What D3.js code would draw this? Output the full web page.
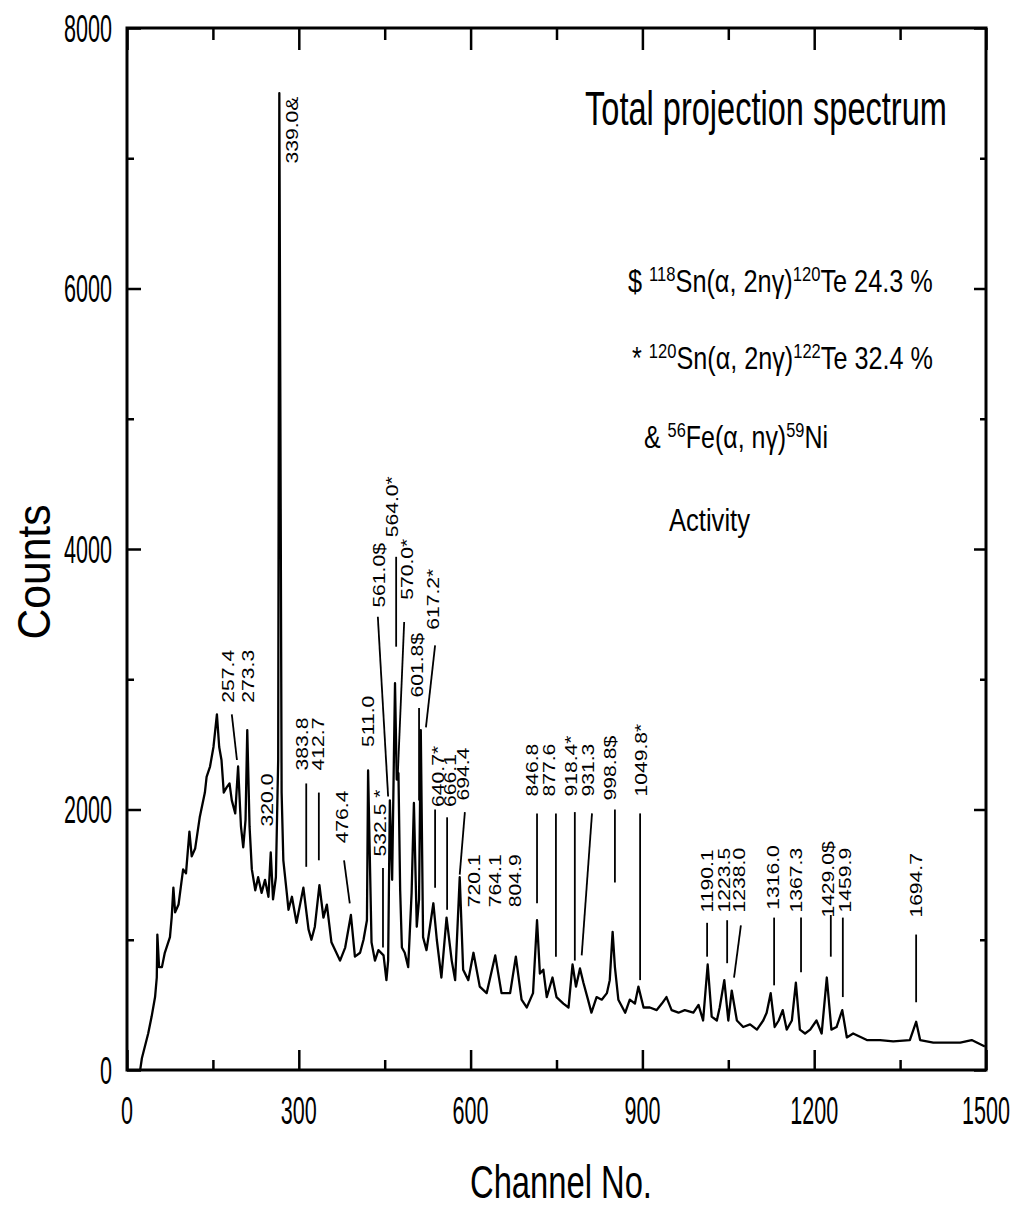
<!DOCTYPE html>
<html>
<head>
<meta charset="utf-8">
<script src="https://cdn.jsdelivr.net/npm/d3@7"></script>
<style>
  body { margin: 0; background: #fff; }
  svg { display: block; }
  text { font-family: "Liberation Sans", Arial, Helvetica, sans-serif; fill: #000; }
</style>
</head>
<body>
<svg id="chart" width="1021" height="1212"></svg>
<script>
// spectrum: [channel, counts]
const spectrum = [
  [23,0],[26,90],[37,280],[43,410],[49,560],[52,710],[53,1040],[56,790],[61,790],[66,900],
  [75,1020],[78,1170],[81,1400],[84,1210],[90,1270],[95,1440],[98,1540],[103,1510],[109,1830],[113,1640],
  [119,1700],[127,1940],[136,2130],[139,2250],[145,2330],[151,2480],[157,2730],[161,2480],[165,2380],[169,2130],
  [174,2170],[179,2200],[183,2070],[189,1970],[194,2330],[199,1870],[203,1710],[207,1920],[210,2610],[214,1870],
  [218,1540],[224,1380],[229,1480],[235,1360],[241,1460],[247,1330],[251,1670],[255,1310],[260,1480],[264,2380],
  [266,7500],[270,2130],[273,1610],[279,1360],[282,1230],[288,1330],[296,1130],[308,1400],[317,1080],[322,1000],
  [328,1100],[336,1420],[343,1170],[349,1270],[357,980],[372,840],[381,940],[391,1190],[398,870],[407,900],
  [413,1000],[419,1150],[421,2300],[427,980],[433,840],[439,920],[448,880],[453,690],[456,840],[459,2070],
  [463,1460],[466,2380],[468,2970],[471,2230],[474,2280],[477,1380],[480,940],[485,900],[491,790],[497,1360],
  [501,2050],[506,1100],[510,1310],[513,2610],[517,1020],[523,920],[529,1100],[535,1280],[541,1000],[549,710],
  [558,1170],[567,840],[573,690],[581,1480],[587,770],[596,690],[605,900],[616,640],[628,590],[643,880],
  [654,590],[669,590],[679,870],[689,540],[698,480],[709,590],[716,1150],[721,740],[727,770],[733,560],
  [743,710],[750,560],[762,510],[771,480],[778,810],[784,640],[791,780],[797,670],[805,540],[811,440],
  [820,560],[829,540],[838,590],[843,690],[848,1060],[852,790],[858,540],[870,440],[878,540],[887,510],
  [893,640],[902,480],[913,480],[925,460],[934,510],[942,560],[951,460],[963,440],[974,460],[989,440],
  [998,500],[1006,380],[1014,810],[1021,410],[1030,380],[1035,480],[1043,690],[1050,380],[1056,610],[1065,380],
  [1076,330],[1088,350],[1100,310],[1111,380],[1117,440],[1124,590],[1131,330],[1138,380],[1145,460],[1152,310],
  [1161,380],[1168,670],[1175,310],[1184,280],[1193,310],[1204,380],[1213,280],[1222,710],[1230,310],[1239,330],
  [1249,460],[1257,250],[1268,280],[1292,230],[1315,230],[1338,220],[1367,230],[1378,370],[1385,230],[1408,210],
  [1431,210],[1455,210],[1475,230],[1498,180]
];

const xTicks = [0, 300, 600, 900, 1200, 1500];
const xMinorTicks = [150, 450, 750, 1050, 1350];
const yTicks = [0, 2000, 4000, 6000, 8000];
const yMinorTicks = [1000, 3000, 5000, 7000];

// peak energy labels (keV), where the rotated text starts, and the leader line under it
const peakNames = ["257.4","273.3","320.0","339.0&","383.8","412.7","476.4","511.0","532.5 *","561.0$",
  "564.0*","570.0*","601.8$","617.2*","640.7*","666.1","694.4","720.1","764.1","804.9",
  "846.8","877.6","918.4*","931.3","998.8$","1049.8*","1190.1","1223.5","1238.0","1316.0",
  "1367.3","1429.0$","1459.9","1694.7"];
const peakLabelAt = [[176,2820],[211,2820],[244,1870],[288,6960],[306,2300],[333,2300],[375,1740],[421,2480],[442,1640],[440,3550],
  [463,4090],[489,3610],[506,2860],[534,3380],[543,2020],[564,2020],[587,2070],[606,1250],[643,1250],[677,1250],
  [707,2100],[737,2100],[775,2100],[805,2100],[843,2070],[897,2100],[1013,1210],[1042,1210],[1069,1210],[1128,1230],
  [1168,1210],[1224,1170],[1254,1210],[1378,1170]];
const peakLeaders = [
  [[183,2730],[192,2380]], null, null, null,
  [[313,2200],[313,1560]], [[335,2130],[335,1610]], [[379,1610],[389,1280]], null,
  [[447,1550],[447,940]], [[438,3480],[456,2100]], [[470,3940],[470,3250]], [[484,3440],[473,2280]],
  [[510,2780],[510,2070]], [[538,3260],[522,2630]], [[538,2000],[538,1400]], [[559,1940],[559,1230]],
  [[590,1980],[581,1500]], null, null, null,
  [[716,1970],[716,1280]], [[749,1970],[749,870]], [[782,1980],[782,840]], [[812,1970],[794,880]],
  [[852,2000],[852,1440]], [[896,1970],[896,690]], [[1013,1130],[1013,870]], [[1048,1150],[1048,820]],
  [[1072,1110],[1060,710]], [[1130,1170],[1130,650]], [[1177,1170],[1177,750]], [[1229,1190],[1229,870]],
  [[1250,1170],[1250,560]], [[1378,1040],[1378,520]]
];

// legend lines, ^..^ marks a superscript
const legendLines = [
  "$ ^118^Sn(α, 2nγ)^120^Te 24.3 %",
  "* ^120^Sn(α, 2nγ)^122^Te 32.4 %",
  "& ^56^Fe(α, nγ)^59^Ni",
  "Activity"
];
const legendBox = [[628, 933, 292], [632, 933, 369], [644, 828, 448], [669, 750, 531]];

const width = 1021, height = 1212;
const margin = {top: 28, right: 35, bottom: 142, left: 127};

const svg = d3.select('#chart');

const x = d3.scaleLinear().domain([0, 1500]).range([margin.left, width - margin.right]);
const y = d3.scaleLinear().domain([0, 8000]).range([height - margin.bottom, margin.top]);

// squeeze/stretch a text horizontally so it takes the width seen in the picture
function fitWidth(sel, targetFn) {
  sel.each(function(d, i) {
    const t = d3.select(this);
    const w = this.getBBox().width;
    const k = targetFn(d, i) / w;
    t.attr('transform', t.attr('transform') + ' scale(' + k + ',1)');
  });
}

// frame
svg.append('rect')
  .attr('x', margin.left).attr('y', margin.top)
  .attr('width', width - margin.left - margin.right)
  .attr('height', height - margin.top - margin.bottom)
  .attr('fill', 'none').attr('stroke', '#000').attr('stroke-width', 3);

// inward ticks on all four sides
function ticks(axis, values, size, transform) {
  svg.append('g').attr('transform', transform)
    .call(axis.tickValues(values).tickSizeInner(size).tickSizeOuter(0).tickFormat(''))
    .call(g => g.select('.domain').remove())
    .call(g => g.selectAll('line').attr('stroke', '#000').attr('stroke-width', 2.5));
}
ticks(d3.axisBottom(x), xTicks, -20, `translate(0,${y(0)})`);
ticks(d3.axisBottom(x), xMinorTicks, -10, `translate(0,${y(0)})`);
ticks(d3.axisTop(x), xTicks, -22, `translate(0,${y(8000)})`);
ticks(d3.axisTop(x), xMinorTicks, -12, `translate(0,${y(8000)})`);
ticks(d3.axisLeft(y), yTicks, -14, `translate(${x(0)},0)`);
ticks(d3.axisLeft(y), yMinorTicks, -7, `translate(${x(0)},0)`);
ticks(d3.axisRight(y), yTicks, -12, `translate(${x(1500)},0)`);
ticks(d3.axisRight(y), yMinorTicks, -6, `translate(${x(1500)},0)`);

// tick labels (narrow digits, as in the scan)
svg.append('g').selectAll('text')
  .data(xTicks).join('text')
    .attr('transform', d => `translate(${x(d)},1124)`)
    .attr('text-anchor', 'middle')
    .attr('font-size', 38)
    .text(d => d)
    .call(fitWidth, d => String(d).length * 12);

svg.append('g').selectAll('text')
  .data(yTicks).join('text')
    .attr('transform', d => `translate(112,${y(d) + 13.5})`)
    .attr('text-anchor', 'end')
    .attr('font-size', 38)
    .text(d => d)
    .call(fitWidth, d => String(d).length * 12);

// axis titles
svg.append('text')
  .attr('transform', 'translate(561,1198)')
  .attr('text-anchor', 'middle')
  .attr('font-size', 46)
  .text('Channel No.')
  .call(fitWidth, () => 182);

svg.append('text')
  .attr('transform', 'translate(50,572) rotate(-90)')
  .attr('text-anchor', 'middle')
  .attr('font-size', 46)
  .text('Counts')
  .call(fitWidth, () => 135);

// spectrum
const line = d3.line()
  .x(d => x(d[0]))
  .y(d => y(d[1]));

svg.append('path')
  .datum(spectrum)
  .attr('fill', 'none')
  .attr('stroke', '#000')
  .attr('stroke-width', 2.3)
  .attr('stroke-linejoin', 'round')
  .attr('d', line);

// leader lines
svg.append('g').selectAll('line')
  .data(peakLeaders.filter(d => d))
  .join('line')
    .attr('x1', d => x(d[0][0])).attr('y1', d => y(d[0][1]))
    .attr('x2', d => x(d[1][0])).attr('y2', d => y(d[1][1]))
    .attr('stroke', '#000').attr('stroke-width', 1.8);

// peak labels, rotated
svg.append('g').selectAll('text')
  .data(peakNames).join('text')
    .attr('transform', (d, i) => `translate(${x(peakLabelAt[i][0])},${y(peakLabelAt[i][1])}) rotate(-90) scale(1.28,1)`)
    .attr('dy', '0.36em')
    .attr('font-size', 16.5)
    .text(d => d);

// title and legend
svg.append('text')
  .attr('transform', 'translate(585,125)')
  .attr('font-size', 48)
  .text('Total projection spectrum')
  .call(fitWidth, () => 362);

legendLines.forEach((str, i) => {
  const [left, right, base] = legendBox[i];
  const t = svg.append('text')
    .attr('transform', `translate(${left},${base})`)
    .attr('font-size', 32);
  let shift = 0;
  str.split('^').forEach((part, j) => {
    if (!part) return;
    const sup = j % 2 === 1;
    const dy = sup ? -11 : -shift;
    t.append('tspan')
      .attr('dy', dy)
      .attr('font-size', sup ? 21 : 32)
      .text(part);
    shift = sup ? -11 : 0;
  });
  t.call(fitWidth, () => right - left);
});
</script>
</body>
</html>
